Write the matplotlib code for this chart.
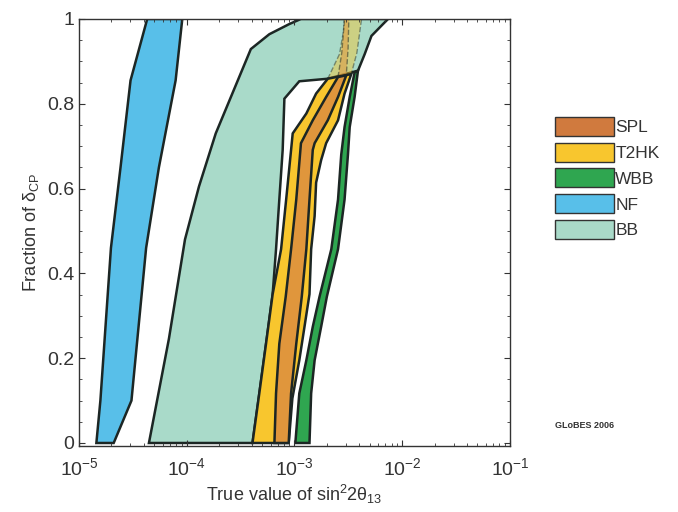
import matplotlib
matplotlib.use("Agg")
import matplotlib.pyplot as plt
from matplotlib.patches import Patch
from matplotlib.ticker import LogLocator, MultipleLocator, FormatStrFormatter
import numpy as np

# band edges: (y, x) along left and right boundary
NF_LEFT_Y = [0, 0.10, 0.46, 0.65, 0.855, 1]
NF_LEFT_X = [1.45e-5, 1.58e-5, 1.98e-5, 2.43e-5, 3.01e-5, 4.30e-5]
NF_RIGHT_Y = [0, 0.10, 0.46, 0.65, 0.855, 1]
NF_RIGHT_X = [2.10e-5, 3.07e-5, 4.20e-5, 5.52e-5, 7.89e-5, 9.10e-5]

BB_LEFT_Y = [0, 0.246, 0.48, 0.605, 0.73, 0.929, 0.964, 0.988, 1]
BB_LEFT_X = [4.46e-5, 6.84e-5, 9.64e-5, 1.30e-4, 1.86e-4, 3.94e-4, 5.85e-4, 8.97e-4, 1.15e-3]
BB_RIGHT_Y = [0, 0.117, 0.234, 0.351, 0.457, 0.574, 0.691, 0.812, 0.853, 0.859, 0.878,
              0.917, 0.96, 0.988, 1]
BB_RIGHT_X = [4.08e-4, 4.72e-4, 5.45e-4, 6.28e-4, 6.75e-4, 7.24e-4, 7.78e-4, 8.07e-4,
              1.11e-3, 2.04e-3, 3.89e-3, 4.49e-3, 5.19e-3, 6.65e-3, 7.41e-3]

T2HK_LEFT_Y = [0, 0.117, 0.234, 0.351, 0.457, 0.574, 0.691, 0.73, 0.777, 0.824, 0.859]
T2HK_LEFT_X = [4.08e-4, 4.72e-4, 5.45e-4, 6.28e-4, 7.52e-4, 8.38e-4, 9.31e-4, 9.64e-4,
               1.29e-3, 1.59e-3, 2.04e-3]
T2HK_RIGHT_Y = [0, 0.105, 0.195, 0.274, 0.351, 0.457, 0.535, 0.614, 0.667, 0.707, 0.761,
                0.824, 0.870]
T2HK_RIGHT_X = [8.85e-4, 9.57e-4, 1.11e-3, 1.24e-3, 1.38e-3, 1.43e-3, 1.54e-3, 1.59e-3,
                1.77e-3, 1.97e-3, 2.54e-3, 2.92e-3, 3.37e-3]

SPL_LEFT_Y = [0, 0.117, 0.234, 0.345, 0.457, 0.574, 0.707, 0.761, 0.816, 0.863]
SPL_LEFT_X = [6.52e-4, 6.75e-4, 7.24e-4, 8.3e-4, 9.31e-4, 1.04e-3, 1.15e-3, 1.48e-3,
              1.97e-3, 2.54e-3]
SPL_RIGHT_Y = [0, 0.117, 0.234, 0.345, 0.457, 0.574, 0.691, 0.707, 0.761, 0.816, 0.867]
SPL_RIGHT_X = [8.85e-4, 9.31e-4, 1.04e-3, 1.17e-3, 1.29e-3, 1.38e-3, 1.48e-3, 1.54e-3,
               2.04e-3, 2.54e-3, 3.03e-3]

WBB_LEFT_Y = [0, 0.117, 0.195, 0.274, 0.345, 0.457, 0.574, 0.68, 0.745, 0.816, 0.874]
WBB_LEFT_X = [1.02e-3, 1.11e-3, 1.29e-3, 1.48e-3, 1.71e-3, 2.20e-3, 2.54e-3, 2.72e-3,
              2.92e-3, 3.26e-3, 3.62e-3]
WBB_RIGHT_Y = [0, 0.117, 0.195, 0.274, 0.345, 0.457, 0.574, 0.68, 0.745, 0.816, 0.878]
WBB_RIGHT_X = [1.38e-3, 1.43e-3, 1.54e-3, 1.77e-3, 2.00e-3, 2.54e-3, 2.92e-3, 3.14e-3,
               3.26e-3, 3.62e-3, 3.89e-3]

# parts of SPL / T2HK that lie inside the BB band (drawn see-through, dashed)
SPL_TOP_LEFT_Y = [0.863, 0.92, 1]
SPL_TOP_LEFT_X = [2.54e-3, 2.75e-3, 2.92e-3]
SPL_TOP_RIGHT_Y = [0.867, 0.93, 1]
SPL_TOP_RIGHT_X = [3.03e-3, 3.15e-3, 3.2e-3]
T2HK_TOP_LEFT_Y = [0.859, 0.917, 0.97, 1]
T2HK_TOP_LEFT_X = [2.04e-3, 2.62e-3, 2.85e-3, 2.9e-3]
T2HK_TOP_RIGHT_Y = [0.870, 0.92, 1]
T2HK_TOP_RIGHT_X = [3.37e-3, 3.8e-3, 4.2e-3]

LABELS = ["SPL", "T2HK", "WBB", "NF", "BB"]
COLORS = {"SPL": "#e0963c", "T2HK": "#f8c62e", "WBB": "#2fa650",
          "NF": "#58bfe9", "BB": "#a9dac9"}
LEGEND_COLORS = {"SPL": "#d07a3e", "T2HK": "#f8c62e", "WBB": "#2fa650",
                 "NF": "#58bfe9", "BB": "#a9dac9"}

EDGE = "#1c2624"

plt.rcParams["font.family"] = ["Liberation Sans", "DejaVu Sans"]
plt.rcParams["mathtext.default"] = "regular"


def band(ax, lx, ly, rx, ry, color, **kw):
    xs = np.r_[lx, rx[::-1]]
    ys = np.r_[ly, ry[::-1]]
    ax.fill(xs, ys, facecolor=color, edgecolor=EDGE, **kw)


fig = plt.figure(figsize=(6.78, 5.12), dpi=100)
ax = fig.add_axes([0.1165, 0.129, 0.6355, 0.834])

band(ax, NF_LEFT_X, NF_LEFT_Y, NF_RIGHT_X, NF_RIGHT_Y, COLORS["NF"], lw=1.8)
band(ax, BB_LEFT_X, BB_LEFT_Y, BB_RIGHT_X, BB_RIGHT_Y, COLORS["BB"], lw=1.8)
band(ax, T2HK_TOP_LEFT_X, T2HK_TOP_LEFT_Y, T2HK_TOP_RIGHT_X, T2HK_TOP_RIGHT_Y,
     COLORS["T2HK"], lw=1.0, ls="--", alpha=0.45)
band(ax, SPL_TOP_LEFT_X, SPL_TOP_LEFT_Y, SPL_TOP_RIGHT_X, SPL_TOP_RIGHT_Y,
     COLORS["SPL"], lw=1.0, ls="--", alpha=0.5)
band(ax, WBB_LEFT_X, WBB_LEFT_Y, WBB_RIGHT_X, WBB_RIGHT_Y, COLORS["WBB"], lw=1.8)
band(ax, T2HK_LEFT_X, T2HK_LEFT_Y, T2HK_RIGHT_X, T2HK_RIGHT_Y, COLORS["T2HK"], lw=1.8)
band(ax, SPL_LEFT_X, SPL_LEFT_Y, SPL_RIGHT_X, SPL_RIGHT_Y, COLORS["SPL"], lw=1.8)

ax.set_xscale("log")
ax.set_xlim(1e-5, 1e-1)
ax.set_ylim(-0.007, 1)
ax.xaxis.set_major_locator(LogLocator(base=10, numticks=10))
ax.xaxis.set_minor_locator(LogLocator(base=10, subs=np.arange(2, 10), numticks=20))
ax.yaxis.set_major_locator(MultipleLocator(0.2))
ax.yaxis.set_minor_locator(MultipleLocator(0.05))
ax.yaxis.set_major_formatter(FormatStrFormatter("%g"))
ax.tick_params(which="both", direction="in", top=True, right=True, labelsize=14,
               color="#333333", labelcolor="#333333")
ax.tick_params(which="major", length=4)
ax.tick_params(which="minor", length=2.5)
ax.tick_params(axis="x", pad=8)
for s in ax.spines.values():
    s.set_color("#333333")
    s.set_linewidth(1.0)

ax.set_xlabel(r"True value of $sin^{2}2\theta_{13}$", fontsize=13, labelpad=3,
              color="#333333")
ax.set_ylabel(r"Fraction of $\delta_{CP}$", fontsize=13, labelpad=4, color="#333333")

handles = [Patch(facecolor=LEGEND_COLORS[k], edgecolor="#333333", lw=1.0) for k in LABELS]
fig.legend(handles, LABELS, loc="upper left", bbox_to_anchor=(0.818, 0.772),
           frameon=False, fontsize=12.5, handlelength=3.4, handleheight=1.3,
           labelspacing=0.4, handletextpad=0.1, borderpad=0, borderaxespad=0,
           labelcolor="#333333")

fig.text(0.818, 0.165, "GLoBES 2006", fontsize=6.5, fontweight="bold", color="#333333")

fig.savefig("out.png", dpi=100)
